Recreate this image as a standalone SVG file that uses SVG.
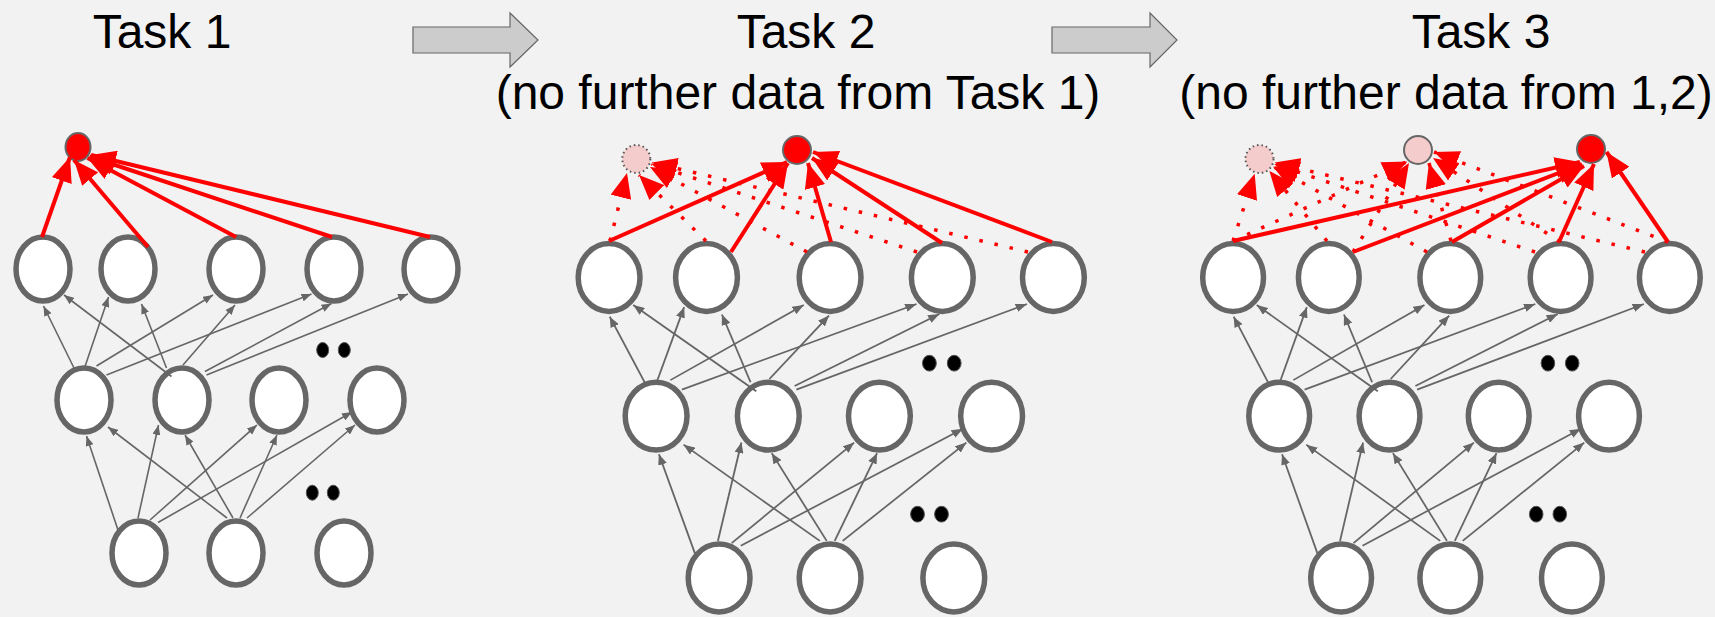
<svg xmlns="http://www.w3.org/2000/svg" width="1715" height="617" viewBox="0 0 1715 617">
<style>
.bg{fill:#f2f2f2}
.t{font-family:"Liberation Sans",Arial,sans-serif;font-size:48px;fill:#000;text-anchor:middle}
.bigarrow{fill:#cccccc;stroke:#666;stroke-width:1.2}
.n{fill:#fff;stroke:#666;stroke-width:5.5}
.dot{fill:#000;stroke:#555;stroke-width:1}
.out{fill:#ff0000;stroke:#666;stroke-width:2}
.old{fill:#f4cccc;stroke:#666;stroke-width:2}
.oldd{fill:#f4cccc;stroke:#555;stroke-width:2;stroke-dasharray:1.5 3}
.g line{stroke:#666;stroke-width:1.6;marker-end:url(#gh)}
.r{stroke:#ff0000;stroke-width:4;marker-end:url(#rh);fill:none}
.rd{stroke:#ff0000;stroke-width:3.5;stroke-dasharray:3.5 12;marker-end:url(#rh);fill:none}
</style>
<defs>
<marker id="gh" markerUnits="userSpaceOnUse" markerWidth="10" markerHeight="8" refX="10" refY="4" orient="auto"><path d="M0,0 L10,4 L0,8 Z" fill="#666"/></marker>
<marker id="rh" markerUnits="userSpaceOnUse" markerWidth="25" markerHeight="21" refX="25" refY="10.5" orient="auto"><path d="M0,0 L25,10.5 L0,21 Z" fill="#ff0000"/></marker>
</defs>
<rect class="bg" x="0" y="0" width="1715" height="617"/>

<g id="titles">
<text class="t" x="162" y="48">Task 1</text>
<text class="t" x="806" y="48">Task 2</text>
<text class="t" x="798" y="109">(no further data from Task 1)</text>
<text class="t" x="1481" y="48">Task 3</text>
<text class="t" x="1446" y="109">(no further data from 1,2)</text>
</g>
<g id="stage-arrows">
<polygon class="bigarrow" points="413,27 510,27 510,13 538,40 510,67 510,53 413,53"/>
<polygon class="bigarrow" points="1052,27 1150,27 1150,13 1177,40 1150,67 1150,53 1052,53"/>
</g>

<!-- Panel 1 nodes -->
<g id="p1-out"><ellipse class="out" cx="78" cy="147" rx="12.5" ry="14"/></g>
<g id="p1-t1"><ellipse class="n" cx="43" cy="269" rx="27" ry="32"/></g>
<g id="p1-t2"><ellipse class="n" cx="128" cy="269" rx="27" ry="32"/></g>
<g id="p1-t3"><ellipse class="n" cx="236" cy="269" rx="27" ry="32"/></g>
<g id="p1-t4"><ellipse class="n" cx="334" cy="269" rx="27" ry="32"/></g>
<g id="p1-t5"><ellipse class="n" cx="431" cy="269" rx="27" ry="32"/></g>
<g id="p1-m1"><ellipse class="n" cx="84" cy="400" rx="27" ry="32"/></g>
<g id="p1-m2"><ellipse class="n" cx="182" cy="400" rx="27" ry="32"/></g>
<g id="p1-m3"><ellipse class="n" cx="279" cy="400" rx="27" ry="32"/></g>
<g id="p1-m4"><ellipse class="n" cx="377" cy="400" rx="27" ry="32"/></g>
<g id="p1-b1"><ellipse class="n" cx="139" cy="553" rx="27" ry="32"/></g>
<g id="p1-b2"><ellipse class="n" cx="236" cy="553" rx="27" ry="32"/></g>
<g id="p1-b3"><ellipse class="n" cx="344" cy="553" rx="27" ry="32"/></g>
<g id="p1-dots"><ellipse class="dot" cx="322.7" cy="350" rx="6" ry="7.5"/><ellipse class="dot" cx="344.3" cy="350" rx="6" ry="7.5"/><ellipse class="dot" cx="312.3" cy="492.7" rx="6" ry="7.5"/><ellipse class="dot" cx="333.3" cy="492.7" rx="6" ry="7.5"/></g>

<!-- Panel 2 nodes -->
<g id="p2-old1"><circle class="oldd" cx="636.3" cy="159" r="14"/></g>
<g id="p2-out"><circle class="out" cx="797" cy="150" r="14"/></g>
<g id="p2-t1"><ellipse class="n" cx="609.1" cy="277.5" rx="30.9" ry="33.9"/></g>
<g id="p2-t2"><ellipse class="n" cx="706.5" cy="277.5" rx="30.9" ry="33.9"/></g>
<g id="p2-t3"><ellipse class="n" cx="830.1" cy="277.5" rx="30.9" ry="33.9"/></g>
<g id="p2-t4"><ellipse class="n" cx="942.3" cy="277.5" rx="30.9" ry="33.9"/></g>
<g id="p2-t5"><ellipse class="n" cx="1053.4" cy="277.5" rx="30.9" ry="33.9"/></g>
<g id="p2-m1"><ellipse class="n" cx="656.1" cy="416.1" rx="30.9" ry="33.9"/></g>
<g id="p2-m2"><ellipse class="n" cx="768.3" cy="416.1" rx="30.9" ry="33.9"/></g>
<g id="p2-m3"><ellipse class="n" cx="879.4" cy="416.1" rx="30.9" ry="33.9"/></g>
<g id="p2-m4"><ellipse class="n" cx="991.6" cy="416.1" rx="30.9" ry="33.9"/></g>
<g id="p2-b1"><ellipse class="n" cx="719.1" cy="578" rx="30.9" ry="33.9"/></g>
<g id="p2-b2"><ellipse class="n" cx="830.1" cy="578" rx="30.9" ry="33.9"/></g>
<g id="p2-b3"><ellipse class="n" cx="953.8" cy="578" rx="30.9" ry="33.9"/></g>
<g id="p2-dots"><ellipse class="dot" cx="929.4" cy="363.2" rx="6.9" ry="7.9"/><ellipse class="dot" cx="954.2" cy="363.2" rx="6.9" ry="7.9"/><ellipse class="dot" cx="917.5" cy="514.2" rx="6.9" ry="7.9"/><ellipse class="dot" cx="941.5" cy="514.2" rx="6.9" ry="7.9"/></g>

<!-- Panel 3 nodes -->
<g id="p3-old1"><circle class="oldd" cx="1259.5" cy="159" r="14"/></g>
<g id="p3-old2"><circle class="old" cx="1418" cy="150" r="14"/></g>
<g id="p3-out"><circle class="out" cx="1591" cy="149" r="14"/></g>
<g id="p3-t1"><ellipse class="n" cx="1233.1" cy="277.5" rx="30.4" ry="33.9"/></g>
<g id="p3-t2"><ellipse class="n" cx="1328.8" cy="277.5" rx="30.4" ry="33.9"/></g>
<g id="p3-t3"><ellipse class="n" cx="1450.3" cy="277.5" rx="30.4" ry="33.9"/></g>
<g id="p3-t4"><ellipse class="n" cx="1560.6" cy="277.5" rx="30.4" ry="33.9"/></g>
<g id="p3-t5"><ellipse class="n" cx="1669.8" cy="277.5" rx="30.4" ry="33.9"/></g>
<g id="p3-m1"><ellipse class="n" cx="1279.2" cy="416.1" rx="30.4" ry="33.9"/></g>
<g id="p3-m2"><ellipse class="n" cx="1389.5" cy="416.1" rx="30.4" ry="33.9"/></g>
<g id="p3-m3"><ellipse class="n" cx="1498.7" cy="416.1" rx="30.4" ry="33.9"/></g>
<g id="p3-m4"><ellipse class="n" cx="1609" cy="416.1" rx="30.4" ry="33.9"/></g>
<g id="p3-b1"><ellipse class="n" cx="1341.1" cy="578" rx="30.4" ry="33.9"/></g>
<g id="p3-b2"><ellipse class="n" cx="1450.3" cy="578" rx="30.4" ry="33.9"/></g>
<g id="p3-b3"><ellipse class="n" cx="1571.9" cy="578" rx="30.4" ry="33.9"/></g>
<g id="p3-dots"><ellipse class="dot" cx="1547.9" cy="363.2" rx="6.8" ry="7.9"/><ellipse class="dot" cx="1572.2" cy="363.2" rx="6.8" ry="7.9"/><ellipse class="dot" cx="1536.2" cy="514.2" rx="6.8" ry="7.9"/><ellipse class="dot" cx="1559.8" cy="514.2" rx="6.8" ry="7.9"/></g>

<g id="connectors">
<g class="g" id="p1-edges">
<line x1="118" y1="530" x2="86.5" y2="436"/>
<line x1="138" y1="518" x2="158.5" y2="425"/>
<line x1="150" y1="520" x2="257" y2="425"/>
<line x1="158" y1="522.5" x2="352" y2="412"/>
<line x1="227" y1="518" x2="108" y2="427"/>
<line x1="233" y1="518" x2="185" y2="435"/>
<line x1="240" y1="518" x2="277" y2="435"/>
<line x1="247" y1="518" x2="355" y2="425"/>
<line x1="75" y1="370" x2="43.5" y2="306"/>
<line x1="85" y1="366.5" x2="108.5" y2="297"/>
<line x1="96.5" y1="366" x2="213" y2="295"/>
<line x1="106.5" y1="375" x2="311.5" y2="294"/>
<line x1="171.5" y1="376.5" x2="64" y2="295"/>
<line x1="166.5" y1="368" x2="141.5" y2="304"/>
<line x1="183" y1="365" x2="235" y2="305"/>
<line x1="205" y1="371.5" x2="331.5" y2="303.5"/>
<line x1="206.5" y1="375" x2="408" y2="294"/>
</g>
<g class="g" id="p2-edges" transform="matrix(1.145 0 0 1.058 559.9 -7.1)">
<line x1="118" y1="530" x2="86.5" y2="436"/>
<line x1="138" y1="518" x2="158.5" y2="425"/>
<line x1="150" y1="520" x2="257" y2="425"/>
<line x1="158" y1="522.5" x2="352" y2="412"/>
<line x1="227" y1="518" x2="108" y2="427"/>
<line x1="233" y1="518" x2="185" y2="435"/>
<line x1="240" y1="518" x2="277" y2="435"/>
<line x1="247" y1="518" x2="355" y2="425"/>
<line x1="75" y1="370" x2="43.5" y2="306"/>
<line x1="85" y1="366.5" x2="108.5" y2="297"/>
<line x1="96.5" y1="366" x2="213" y2="295"/>
<line x1="106.5" y1="375" x2="311.5" y2="294"/>
<line x1="171.5" y1="376.5" x2="64" y2="295"/>
<line x1="166.5" y1="368" x2="141.5" y2="304"/>
<line x1="183" y1="365" x2="235" y2="305"/>
<line x1="205" y1="371.5" x2="331.5" y2="303.5"/>
<line x1="206.5" y1="375" x2="408" y2="294"/>
</g>
<g class="g" id="p3-edges" transform="matrix(1.1255 0 0 1.058 1184.7 -7.1)">
<line x1="118" y1="530" x2="86.5" y2="436"/>
<line x1="138" y1="518" x2="158.5" y2="425"/>
<line x1="150" y1="520" x2="257" y2="425"/>
<line x1="158" y1="522.5" x2="352" y2="412"/>
<line x1="227" y1="518" x2="108" y2="427"/>
<line x1="233" y1="518" x2="185" y2="435"/>
<line x1="240" y1="518" x2="277" y2="435"/>
<line x1="247" y1="518" x2="355" y2="425"/>
<line x1="75" y1="370" x2="43.5" y2="306"/>
<line x1="85" y1="366.5" x2="108.5" y2="297"/>
<line x1="96.5" y1="366" x2="213" y2="295"/>
<line x1="106.5" y1="375" x2="311.5" y2="294"/>
<line x1="171.5" y1="376.5" x2="64" y2="295"/>
<line x1="166.5" y1="368" x2="141.5" y2="304"/>
<line x1="183" y1="365" x2="235" y2="305"/>
<line x1="205" y1="371.5" x2="331.5" y2="303.5"/>
<line x1="206.5" y1="375" x2="408" y2="294"/>
</g>

<g id="p1-red">
<line class="r" x1="42" y1="237" x2="70" y2="157"/>
<line class="r" x1="148" y1="247" x2="74" y2="160"/>
<line class="r" x1="236" y1="237" x2="87.5" y2="158"/>
<line class="r" x1="332" y1="237" x2="89.5" y2="156.5"/>
<line class="r" x1="430" y1="237" x2="91" y2="155"/>
</g>
<g id="p2-red">
<line class="rd" x1="610" y1="241" x2="627" y2="173"/>
<line class="rd" x1="706" y1="241" x2="639" y2="175"/>
<line class="rd" x1="807" y1="252" x2="650" y2="167"/>
<line class="rd" x1="917" y1="252" x2="651.5" y2="164"/>
<line class="rd" x1="1028" y1="252" x2="652" y2="162.5"/>
<line class="r" x1="609" y1="241" x2="787" y2="162"/>
<line class="r" x1="731" y1="252" x2="788" y2="163"/>
<line class="r" x1="831" y1="242" x2="808" y2="163"/>
<line class="r" x1="942" y1="243" x2="812" y2="158"/>
<line class="r" x1="1052" y1="242" x2="813" y2="152"/>
</g>
<g id="p3-red">
<line class="rd" x1="1233" y1="241" x2="1254.7" y2="173.7"/>
<line class="rd" x1="1327" y1="241" x2="1269.4" y2="171"/>
<line class="rd" x1="1427" y1="252" x2="1273" y2="166.5"/>
<line class="rd" x1="1535" y1="252" x2="1274.2" y2="164"/>
<line class="rd" x1="1645" y1="252" x2="1274.6" y2="162.6"/>
<line class="rd" x1="1233" y1="241" x2="1407.5" y2="161.5"/>
<line class="rd" x1="1353" y1="252" x2="1409" y2="163"/>
<line class="rd" x1="1451" y1="241" x2="1429" y2="163"/>
<line class="rd" x1="1560" y1="242" x2="1433" y2="158"/>
<line class="rd" x1="1668" y1="242" x2="1434" y2="152"/>
<line class="r" x1="1233" y1="241" x2="1580" y2="162"/>
<line class="r" x1="1353" y1="252" x2="1582" y2="164"/>
<line class="r" x1="1452" y1="242" x2="1584" y2="166"/>
<line class="r" x1="1559" y1="242" x2="1594" y2="164"/>
<line class="r" x1="1668" y1="242" x2="1606.5" y2="152"/>
</g>
</g>
</svg>
